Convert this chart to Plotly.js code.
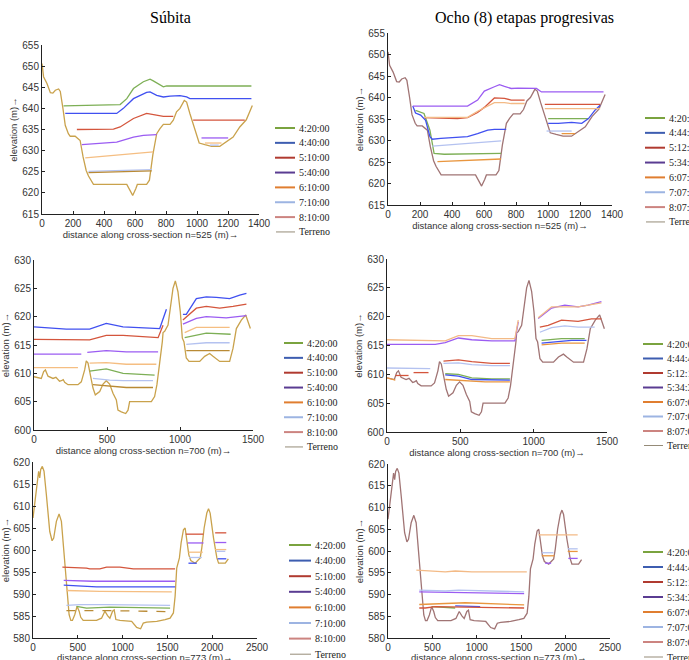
<!DOCTYPE html>
<html><head><meta charset="utf-8">
<script src="https://cdn.plot.ly/plotly-3.0.1.min.js"></script>
<style>html,body{margin:0;padding:0;background:#fff}</style>
</head><body><div id="chart" style="width:689px;height:660px"></div>
<script>
// ---------------- DATA ----------------
const panelTitles = ['Súbita', 'Ocho (8) etapas progresivas'];
const legendSubita = ['4:20:00','4:40:00','5:10:00','5:40:00','6:10:00','7:10:00','8:10:00','Terreno'];
const legendOcho   = ['4:20:00','4:44:48','5:12:12','5:34:36','6:07:00','7:07:00','8:07:00','Terreno'];
const xTitles = ['distance along cross-section n=525 (m)→','distance along cross-section n=700 (m)→','distance along cross-section n=773 (m)→'];
const yTitle = 'elevation (m)→';

// terrain profiles [distance, elevation]
const terrain525 = [[0,650.6],[10,647.5],[32,645.9],[54,643.7],[70,643.6],[86,644.3],[107,644.6],[118,644],[135,640],[150,636],[170,634],[182,633.4],[214,633.4],[246,632.4],[265,628.5],[285,625.3],[300,624],[332,622],[547,622],[568,620.7],[585,619.4],[605,621],[615,622],[675,622],[693,623],[715,629],[740,634],[761,635.2],[783,636.2],[826,636.2],[847,637.2],[868,639.2],[890,640],[918,641.9],[933,641.5],[954,638.8],[982,635.6],[1014,631.8],[1051,631.4],[1094,631],[1147,631],[1190,632],[1233,633.2],[1276,635.6],[1318,637.3],[1357,640.7]];
const terrain700 = [[0,609.4],[27,609.3],[50,609.1],[66,610.3],[78,610.6],[96,609.5],[130,609.1],[150,609.3],[164,609],[175,608.6],[187,608.7],[200,608.9],[210,608.4],[233,608],[301,608],[324,608.5],[347,610.6],[358,612.2],[370,611.8],[386,609.7],[404,607.4],[420,606.2],[450,606.8],[473,608.1],[495,608.7],[518,608.1],[541,606.5],[564,605.3],[575,603.5],[598,603.2],[628,602.9],[644,603.5],[655,605],[804,605],[826,605.9],[842,608],[861,611.5],[879,615.6],[884,617.2],[895,617.4],[918,618.5],[934,622.1],[952,625],[968,626.3],[986,624.4],[1002,620.9],[1016,616.2],[1027,615.6],[1043,612.7],[1062,612.1],[1135,612.1],[1169,613],[1203,613.5],[1226,613],[1272,612.1],[1340,612.1],[1363,614.4],[1386,617.9],[1420,619.4],[1450,620.3],[1466,619.2],[1482,617.9]];
const terrain773 = [[0,607.3],[37,613.3],[63,617.9],[75,616.4],[86,618.3],[104,619],[123,617.9],[149,612.6],[168,608.8],[187,604.2],[213,602.1],[231,602.7],[261,606.5],[291,608.2],[317,606.5],[336,602],[366,595.2],[384,589.8],[403,585.3],[422,584],[440,584],[466,585.3],[492,587.2],[515,586.1],[533,584.7],[560,584],[709,584],[765,584.5],[802,586.1],[832,585.1],[858,584.5],[888,586.1],[906,586.4],[925,584.2],[970,584],[1101,583.8],[1157,582.4],[1201,582.1],[1231,583.4],[1269,583.6],[1381,583.8],[1474,584.2],[1530,584.5],[1567,585.7],[1586,589.5],[1604,595.9],[1634,598.2],[1653,601.6],[1679,604.6],[1698,605],[1716,602.7],[1739,598.9],[1761,597.6],[1810,597],[1866,598.2],[1884,600.5],[1910,605],[1940,608.4],[1959,609.4],[1977,608.4],[2015,602.7],[2052,598.2],[2071,597],[2146,597],[2180,598]];

// Súbita, n=525
const sub525_0420 = [[139,640.6],[504,640.9],[547,642.3],[590,644.7],[654,646.3],[697,646.9],[718,646.5],[761,645.5],[783,645.1],[804,645.3],[1351,645.3]];
const sub525_0440 = [[150,638.8],[482,638.8],[525,640],[590,642.3],[675,643.8],[697,643.9],[740,643.1],[783,642.7],[826,642.9],[890,643],[933,642.7],[954,642.3],[1351,642.3]];
const sub525_0510 = [[225,635],[461,635.1],[504,635.6],[590,637.6],[675,638.8],[740,638.4],[783,638.1],[847,638.1],null,[975,637.2],[1308,637.2]];
const sub525_0540 = [[257,631.4],[482,632],[590,633.2],[654,633.6],[740,633.8],null,[1029,633],[1201,633]];
const sub525_0610 = [[279,628.3],[718,629.7],null,[1051,631.8],[1158,631.8]];
const sub525_0710 = [[300,625.1],[708,625.5],null,[1083,631.3],[1140,631.3]];
const sub525_0810 = [[300,624.8],[708,625.2]];
// Ocho etapas, n=525
const och525_0420 = [[172,637],[225,636.3],[262,632.4],[277,629.3],[288,627],[351,626.8],[707,627],null,[1001,635.1],[1253,635.1]];
const och525_0444 = [[155,638],[172,636.4],[204,635.9],[235,634.7],[262,630.9],[277,630.3],[330,630.5],[497,630.9],[560,631.6],[623,632.4],[665,632.6],[739,632.6],null,[1001,634],[1064,634],[1148,634.2],[1211,634],[1253,635.1],[1295,637.1],[1326,638.2]];
const och525_0512 = [[225,635.3],[434,635.1],[497,635.3],[560,636.5],[602,637.7],[665,639.9],[728,639.8],[770,639.4],[854,639.4],null,[980,638.4],[1326,638.4]];
const och525_0534 = [[155,638],[497,638],[560,639.4],[602,641.5],[665,642.5],[697,643],[728,642.6],[770,642.1],[812,642.2],[896,642.2],[928,642.1],[959,641.3],[1347,641.3]];
const och525_0607 = [[309,625.1],[707,625.7],null,[1085,631.6],[1169,631.6]];
const och525_0707 = [[277,628.7],[707,629.9],null,[991,632.2],[1148,632.2]];
const och525_0807 = [[225,635.4],[497,635.4],[560,636.8],[602,637.6],[665,638.8],[728,638.8],[770,638.6],[854,638.6],null,[980,637.4],[1326,637.4]];
// Súbita, n=700
const sub700_0420 = [[381,610.4],[495,610.8],[610,610],[826,609.7],null,[1032,616.3],[1180,617.1],[1347,616.9]];
const sub700_0440 = [[0,618.2],[221,617.8],[381,617.8],[495,618.8],[610,618.2],[861,617.9],[907,621.3],null,[1020,620.4],[1043,620.4],[1112,623.2],[1180,623.5],[1249,623.4],[1340,623.2],[1409,623.8],[1455,624.1]];
const sub700_0510 = [[0,616],[381,615.9],[495,616.7],[610,616.7],[850,616.3],[884,618.5],null,[1020,619.4],[1112,621.5],[1180,621.8],[1272,621.5],[1363,621.8],[1455,622.2]];
const sub700_0540 = [[0,613.4],[324,613.4],null,[365,613.7],[495,614],[632,613.8],[850,613.8],null,[1020,618.7],[1112,619.7],[1180,620],[1317,619.8],[1455,620.2]];
const sub700_0610 = [[0,611],[301,611],null,[381,611.8],[495,611.9],[632,611.6],[838,611.6],null,[1032,617.2],[1112,618.1],[1340,618.1]];
const sub700_0710 = [[404,609.1],[518,608.8],[610,608.7],[815,608.7],null,[1043,615.1],[1180,615.4],[1340,615.4]];
const sub700_0810 = [[404,608],[518,607.8],[632,607.5],[815,607.5],null,[1043,614],[1340,614]];
// Ocho etapas, n=700
const och700_0420 = [[397,610.1],[487,610],[578,609.4],[714,609.2],[838,609.2],null,[1054,615.9],[1190,616.2],[1348,616.2]];
const och700_0444 = [[397,609.9],[487,609.7],[578,609.1],[714,609],[838,609],null,[1054,615.4],[1144,615.6],[1258,615.9],[1360,615.9]];
const och700_0512 = [[57,609.8],[147,609.8],null,[181,610.3],[283,610.3],null,[385,612.3],[487,612.5],[578,612.2],[714,611.9],[838,611.9],null,[1042,618.2],[1099,618.5],[1190,619.4],[1303,619.2],[1394,619.6],[1462,619.6]];
const och700_0534 = [[0,615.2],[329,615.2],[397,615.5],[487,616.3],[578,616],[714,615.8],[872,615.8],[895,619.1],null,[1031,619.7],[1122,621.5],[1212,622],[1303,621.7],[1371,622],[1462,622.6]];
const och700_0607 = [[0,609.4],[57,609],null,[397,609.1],[487,609],[669,608.7],[838,608.7],null,[1054,615.1],[1190,615.4],[1348,615.4]];
const och700_0707 = [[0,611.1],[295,611],null,[385,611.9],[487,612],[578,611.7],[714,611.5],[838,611.5],null,[1042,617.3],[1122,618.1],[1212,618.4],[1303,618.2],[1416,618.2]];
const och700_0807 = [[0,616],[397,615.8],[487,616.7],[578,616.7],[714,616.2],[872,616.2],[895,619.4],null,[1031,619.8],[1122,621.7],[1212,621.7],[1303,621.7],[1371,622],[1462,622.4]];
// Súbita, n=773
const sub773_0420 = [[485,587.2],[597,586.8],[858,587],[1530,586.8]];
const sub773_0440 = [[343,592],[709,591.6],[1119,591.6],[1586,591.6],null,[1735,597],[1828,597],null,[2060,598],[2157,598]];
const sub773_0510 = [[328,596.1],[597,595.9],[634,595.7],[746,595.7],[821,596.1],[970,596.1],[1119,595.7],[1586,595.7],null,[1705,603.6],[1903,603.6],null,[2033,603.9],[2157,603.9]];
const sub773_0540 = [[343,593.1],[672,592.9],[1586,592.9],null,[1727,601.6],[1903,601.6],null,[2033,601.7],[2157,601.7]];
const sub773_0610 = [[373,590.8],[746,590.6],[1549,590.5],null,[1735,599.5],[1895,599.5],null,[2033,600.1],[2157,600.1]];
const sub773_0710 = [[373,587.4],[522,587.6],[821,587.6],[1530,587.4],null,[1742,598.3],[1884,598.3],null,[2045,599.7],[2146,599.7]];
const sub773_0810 = [[373,586.2],[597,586.2],[895,586.2],[1530,586]];
// Ocho etapas, n=773
const och773_0420 = [[495,587.2],[757,586.9]];
const och773_0444 = [[757,587.4],[1038,587.2]];
const och773_0512 = [[352,586.9],[420,586.9],[532,587.2],[1533,586.9]];
const och773_0534 = [[352,590.6],[645,590.5],[1533,590.2],null,[1769,597.2],[1837,597.2],null,[2031,598.3],[2136,598.3]];
const och773_0607 = [[352,587.7],[570,587.9],[870,588.1],[1533,587.6],null,[1732,598.9],[1874,598.9],null,[2024,599.9],[2136,599.9]];
const och773_0707 = [[352,591],[645,590.8],[795,591],[1533,590.6],null,[1732,599.6],[1863,599.6],null,[2024,600.5],[2136,600.5]];
const och773_0807 = [[319,595.6],[645,595.2],[757,595.4],[945,595.2],[1563,595.2],null,[1694,603.7],[2136,603.7]];

// ---------------- STYLE / BUILD ----------------
const W = 689, H = 660;
const colSub = ['#7DAF56','#4050F0','#D4553C','#9B5CF2','#F5BE82','#B4C2F0','#B98A35'];
const colOch = ['#7DAF56','#4050F0','#D4553C','#9B5CF2','#E9963F','#B4C2F0','#F3BA86'];
const terrCol = ['#C9A24C','#A07474'];
const legCol = ['#7AA33F','#3D5DB0','#B03A30','#5A3C92','#E07E30','#9DB4E2','#CC8480','#958B78'];

const panels = [
  {box:[42,259,45,214], xr:[0,1400], dx:200, yr:[615,655], terr:terrain525, xt:xTitles[0], left:true, xtAnn:false,
   ser:[sub525_0420,sub525_0440,sub525_0510,sub525_0540,sub525_0610,sub525_0710,sub525_0810],
   leg:[275,295,297,128,14.85]},
  {box:[388,612,33,205], xr:[0,1400], dx:200, yr:[615,655], terr:terrain525, xt:xTitles[0], left:false, xtAnn:false,
   ser:[och525_0420,och525_0444,och525_0512,och525_0534,och525_0607,och525_0707,och525_0807],
   leg:[645,665,667,118,14.85]},
  {box:[34,253,260,430], xr:[0,1500], dx:500, yr:[600,630], terr:terrain700, xt:xTitles[1], left:true, xtAnn:false,
   ser:[sub700_0420,sub700_0440,sub700_0510,sub700_0540,sub700_0610,sub700_0710,sub700_0810],
   leg:[284,303,305,343,14.85]},
  {box:[387,607,259,432], xr:[0,1500], dx:500, yr:[600,630], terr:terrain700, xt:xTitles[1], left:false, xtAnn:false,
   ser:[och700_0420,och700_0444,och700_0512,och700_0534,och700_0607,och700_0707,och700_0807],
   leg:[643,663,665,344,14.5]},
  {box:[33,257,462,638], xr:[0,2500], dx:500, yr:[580,620], terr:terrain773, xt:xTitles[2], left:true, xtAnn:true,
   ser:[sub773_0420,sub773_0440,sub773_0510,sub773_0540,sub773_0610,sub773_0710,sub773_0810],
   leg:[289,311,313,545,15.6]},
  {box:[388,610,464,638], xr:[0,2500], dx:500, yr:[580,620], terr:terrain773, xt:xTitles[2], left:false, xtAnn:true,
   ser:[och773_0420,och773_0444,och773_0512,och773_0534,och773_0607,och773_0707,och773_0807],
   leg:[643,663,665,552,15.0]}
];

const traces = [], shapes = [], annotations = [];
const layout = {width:W, height:H, margin:{l:0,r:0,t:0,b:0}, paper_bgcolor:'#fff', plot_bgcolor:'#fff', showlegend:false};
const tickFont = {family:'Liberation Sans, Arial, sans-serif', size:10, color:'#333'};
const titleFont = {family:'Liberation Sans, Arial, sans-serif', size:9.5, color:'#333'};
const xs = p => p ? p[0] : null, ys = p => p ? p[1] : null;

panels.forEach((P, i) => {
  const n = i + 1, sfx = n > 1 ? String(n) : '';
  const xa = 'x' + sfx, ya = 'y' + sfx;
  const [l, r, t, b] = P.box;
  layout['xaxis' + sfx] = {domain:[l/W, r/W], anchor:ya, range:P.xr, tick0:0, dtick:P.dx,
    showline:true, linecolor:'#222', linewidth:1, ticks:'inside', ticklen:3, tickcolor:'#222',
    showgrid:false, zeroline:false, tickfont:tickFont, fixedrange:true, automargin:false,
    title:{text:P.xtAnn ? '' : P.xt, font:titleFont, standoff:1}};
  layout['yaxis' + sfx] = {domain:[1-b/H, 1-t/H], anchor:xa, range:P.yr, tick0:0, dtick:5,
    showline:true, linecolor:'#222', linewidth:1, ticks:'inside', ticklen:3, tickcolor:'#222',
    showgrid:false, zeroline:false, tickfont:tickFont, fixedrange:true, automargin:false,
    title:{text:yTitle, font:titleFont, standoff:2}};
  if (P.xtAnn) {
    // bottom row: title sits at the figure's lower edge, as in the reference
    annotations.push({xref:'paper', yref:'paper', x:(l+r)/2/W, y:1-657/H, xanchor:'center', yanchor:'middle',
      text:P.xt, showarrow:false, font:titleFont});
  }
  const cols = P.left ? colSub : colOch;
  traces.push({type:'scatter', mode:'lines', xaxis:xa, yaxis:ya, x:P.terr.map(xs), y:P.terr.map(ys),
    line:{color:terrCol[P.left?0:1], width:1.3}, hoverinfo:'skip', name:'Terreno'});
  P.ser.forEach((s, k) => {
    const dashed = P.left && n === 5 && k === 6;
    traces.push({type:'scatter', mode:'lines', xaxis:xa, yaxis:ya, x:s.map(xs), y:s.map(ys),
      line:{color:cols[k], width:1.3, dash: dashed ? 'dash' : 'solid'}, hoverinfo:'skip',
      name:(P.left?legendSubita:legendOcho)[k]});
  });
  const [lx0, lx1, tx, y0, dy] = P.leg;
  const labels = P.left ? legendSubita : legendOcho;
  labels.forEach((lab, k) => {
    const py = y0 + k * dy;
    const isT = k === 7;
    shapes.push({type:'line', xref:'paper', yref:'paper', x0:(isT? lx0+1 : lx0)/W, x1:lx1/W,
      y0:1-py/H, y1:1-py/H, line:{color:legCol[k], width:isT?1:2}});
    annotations.push({xref:'paper', yref:'paper', x:tx/W, y:1-py/H, xanchor:'left', yanchor:'middle',
      text:lab, showarrow:false, font:{family:'Liberation Serif, Times New Roman, serif', size:10, color:'#222'}});
  });
});

annotations.push({xref:'paper', yref:'paper', x:170/W, y:1-18/H, xanchor:'center', yanchor:'middle',
  text:panelTitles[0], showarrow:false, font:{family:'Liberation Serif, Times New Roman, serif', size:16, color:'#000'}});
annotations.push({xref:'paper', yref:'paper', x:524/W, y:1-18/H, xanchor:'center', yanchor:'middle',
  text:panelTitles[1], showarrow:false, font:{family:'Liberation Serif, Times New Roman, serif', size:16, color:'#000'}});

layout.shapes = shapes;
layout.annotations = annotations;
Plotly.newPlot('chart', traces, layout, {displayModeBar:false, staticPlot:true});
</script></body></html>
